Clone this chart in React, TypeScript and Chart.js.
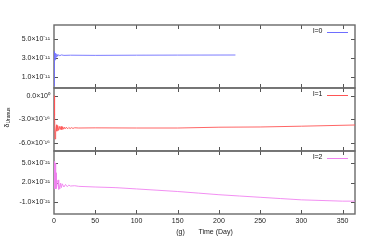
import { useEffect, useRef } from 'react';
import { Chart, registerables } from 'chart.js';

Chart.register(...registerables);

// ---------- data ----------
const SERIES_NAMES = ['l=0', 'l=1', 'l=2'];

const DAYS_L0 = [0, 0.3, 0.8, 1.3, 2, 2.8, 3.5, 4.5, 5.5, 7, 9, 12, 20, 50, 100, 150, 220];
const VALUES_L0 = [0, 2.0e-11, 3.7e-11, 2.8e-11, 3.5e-11, 3.1e-11, 3.4e-11, 3.2e-11, 3.35e-11, 3.25e-11, 3.33e-11, 3.28e-11, 3.3e-11, 3.28e-11, 3.3e-11, 3.31e-11, 3.32e-11];

const DAYS_L1 = [0, 0.7, 1.3, 2, 3, 3.5, 4.5, 5.5, 6.5, 7.5, 8.5, 9.5, 10.5, 11.5, 12.5, 13.5, 15, 16.5, 18, 19.5, 21, 23, 25, 30, 50, 100, 150, 200, 250, 300, 365];
const VALUES_L1 = [0, -2.5e-16, -5.5e-16, -4.6e-16, -3.7e-16, -4.5e-16, -3.8e-16, -4.4e-16, -3.9e-16, -4.3e-16, -3.9e-16, -4.3e-16, -3.95e-16, -4.25e-16, -4.0e-16, -4.2e-16, -4.0e-16, -4.2e-16, -4.03e-16, -4.18e-16, -4.05e-16, -4.15e-16, -4.07e-16, -4.1e-16, -4.08e-16, -4.1e-16, -4.1e-16, -4.0e-16, -3.97e-16, -3.87e-16, -3.72e-16];

const DAYS_L2 = [0, 0.5, 1, 1.5, 2, 2.5, 3, 4, 5, 5.5, 6, 7, 8, 9, 10, 12, 14, 16, 18, 20, 25, 30, 50, 75, 100, 125, 150, 175, 200, 225, 250, 275, 300, 325, 350, 365];
const VALUES_L2 = [1.0e-21, 5.3e-21, 1.2e-21, 5.0e-21, 1.0e-21, 3.5e-21, 1.1e-21, 2.0e-21, 2.4e-21, 0.9e-21, 1.9e-21, 1.0e-21, 1.9e-21, 1.2e-21, 1.8e-21, 1.3e-21, 1.7e-21, 1.35e-21, 1.6e-21, 1.45e-21, 1.5e-21, 1.4e-21, 1.3e-21, 1.2e-21, 1.0e-21, 0.8e-21, 0.6e-21, 0.35e-21, 0.1e-21, -0.1e-21, -0.3e-21, -0.5e-21, -0.7e-21, -0.8e-21, -0.9e-21, -0.9e-21];

const X_TICKS = [0, 50, 100, 150, 200, 250, 300, 350];
const Y0_TICKS = [1e-11, 3e-11, 5e-11];
const Y0_LABELS = ['1.0×10⁻¹¹', '3.0×10⁻¹¹', '5.0×10⁻¹¹'];
const Y1_TICKS = [-6e-16, -3e-16, 0];
const Y1_LABELS = ['-6.0×10⁻¹⁶', '-3.0×10⁻¹⁶', '0.0×10⁰'];
const Y2_TICKS = [-1e-21, 2e-21, 5e-21];
const Y2_LABELS = ['-1.0×10⁻²¹', '2.0×10⁻²¹', '5.0×10⁻²¹'];

const X_TITLE = '(g)       Time (Day)';
const Y_TITLE = 'δ';
const Y_TITLE_SUB = 'Uranus';

// ---------- panel setup ----------
const FONT = "'Liberation Sans', Arial, sans-serif";

const PANELS = [
  { id: 'y0', name: SERIES_NAMES[0], days: DAYS_L0, values: VALUES_L0, unit: 1e-11, min: -0.21e-11, max: 6.53e-11, ticks: Y0_TICKS, labels: Y0_LABELS, color: 'rgb(110,110,255)' },
  { id: 'y1', name: SERIES_NAMES[1], days: DAYS_L1, values: VALUES_L1, unit: 1e-16, min: -7.02e-16, max: 0.98e-16, ticks: Y1_TICKS, labels: Y1_LABELS, color: 'rgb(255,85,85)' },
  { id: 'y2', name: SERIES_NAMES[2], days: DAYS_L2, values: VALUES_L2, unit: 1e-21, min: -2.9e-21, max: 6.9e-21, ticks: Y2_TICKS, labels: Y2_LABELS, color: 'rgb(240,130,240)' },
];

function yScale(p: any) {
  return {
    type: 'linear',
    position: 'left',
    stack: 'panels',
    stackWeight: 1,
    min: p.min / p.unit,
    max: p.max / p.unit,
    grid: { display: false, drawTicks: false },
    border: { display: false },
    afterBuildTicks: (s: any) => {
      s.ticks = p.ticks.map((v: number) => ({ value: v / p.unit }));
    },
    afterFit: (s: any) => {
      s.width = 54;
    },
    ticks: {
      autoSkip: false,
      font: { size: 7, family: FONT },
      color: '#222',
      padding: 4,
      callback: (_v: any, i: number) => p.labels[i],
    },
  };
}

const framePlugin = {
  id: 'frame',
  beforeDatasetsDraw(chart: any) {
    const ctx = chart.ctx;
    const xs = chart.scales.x;
    ctx.save();
    for (const p of PANELS) {
      const s = chart.scales[p.id];
      const l = xs.left, r = xs.right, t = s.top, b = s.bottom;
      ctx.strokeStyle = '#555';
      ctx.lineWidth = 1;
      ctx.beginPath();
      for (const v of X_TICKS) {
        if (v === 0) continue;
        const x = Math.round(xs.getPixelForValue(v)) + 0.5;
        ctx.moveTo(x, b);
        ctx.lineTo(x, b - 4);
        ctx.moveTo(x, t);
        ctx.lineTo(x, t + 4);
      }
      for (const v of p.ticks) {
        const y = Math.round(s.getPixelForValue(v / p.unit)) + 0.5;
        ctx.moveTo(l, y);
        ctx.lineTo(l + 4, y);
        ctx.moveTo(r, y);
        ctx.lineTo(r - 4, y);
      }
      ctx.stroke();
      ctx.strokeStyle = '#6a6a6a';
      ctx.lineWidth = 1.4;
      ctx.strokeRect(l, t, r - l, b - t);
    }
    ctx.restore();
  },
  afterDraw(chart: any) {
    const ctx = chart.ctx;
    const xs = chart.scales.x;
    ctx.save();
    for (const p of PANELS) {
      const s = chart.scales[p.id];
      const r = xs.right;
      const y = s.top + 6.5;
      ctx.font = `7px ${FONT}`;
      ctx.fillStyle = '#111';
      ctx.textAlign = 'right';
      ctx.textBaseline = 'middle';
      ctx.fillText(p.name, r - 32.5, y);
      ctx.strokeStyle = p.color;
      ctx.lineWidth = 1;
      ctx.beginPath();
      ctx.moveTo(r - 28, Math.round(y) + 0.5);
      ctx.lineTo(r - 7, Math.round(y) + 0.5);
      ctx.stroke();
    }
    // y title, rotated, with subscript
    const mid = chart.scales.y1;
    const cy = (mid.top + mid.bottom) / 2 - 2;
    ctx.translate(7, cy);
    ctx.rotate(-Math.PI / 2);
    ctx.fillStyle = '#111';
    ctx.textBaseline = 'middle';
    ctx.textAlign = 'left';
    ctx.font = `7px ${FONT}`;
    const w1 = ctx.measureText(Y_TITLE).width;
    ctx.font = `5px ${FONT}`;
    const w2 = ctx.measureText(Y_TITLE_SUB).width;
    const start = -(w1 + w2) / 2;
    ctx.font = `7px ${FONT}`;
    ctx.fillText(Y_TITLE, start, 0);
    ctx.font = `5px ${FONT}`;
    ctx.fillText(Y_TITLE_SUB, start + w1, 2);
    ctx.restore();
  },
};

export default function App() {
  const ref = useRef<HTMLCanvasElement | null>(null);
  useEffect(() => {
    if (!ref.current) return;
    const chart = new Chart(ref.current, {
      type: 'line',
      data: {
        datasets: PANELS.map((p) => ({
          label: p.name,
          data: p.days.map((d, i) => ({ x: d, y: p.values[i] / p.unit })),
          yAxisID: p.id,
          borderColor: p.color,
          backgroundColor: p.color,
          borderWidth: 0.9,
          pointRadius: 0,
          tension: 0,
          fill: false,
        })),
      },
      options: {
        animation: false,
        responsive: false,
        devicePixelRatio: 1,
        layout: { padding: { top: 25, right: 16, left: 0, bottom: 0 } },
        plugins: { legend: { display: false }, tooltip: { enabled: false } },
        scales: {
          x: {
            type: 'linear',
            position: 'bottom',
            min: 0,
            max: 365,
            grid: { display: false, drawTicks: false },
            border: { display: false },
            afterBuildTicks: (s: any) => {
              s.ticks = X_TICKS.map((v) => ({ value: v }));
            },
            afterFit: (s: any) => {
              s.height = 31;
            },
            ticks: {
              autoSkip: false,
              maxRotation: 0,
              font: { size: 7, family: FONT },
              color: '#222',
              padding: 3,
            },
            title: {
              display: true,
              text: X_TITLE,
              font: { size: 7, family: FONT },
              color: '#222',
              padding: { top: 0, bottom: 9 },
            },
          },
          y2: yScale(PANELS[2]),
          y1: yScale(PANELS[1]),
          y0: yScale(PANELS[0]),
        } as any,
      },
      plugins: [framePlugin],
    } as any);
    return () => chart.destroy();
  }, []);
  return (
    <div style={{ position: 'fixed', left: 0, top: 0, width: 371, height: 245, background: '#fff' }}>
      <canvas ref={ref} width={371} height={245} style={{ display: 'block' }} />
    </div>
  );
}
